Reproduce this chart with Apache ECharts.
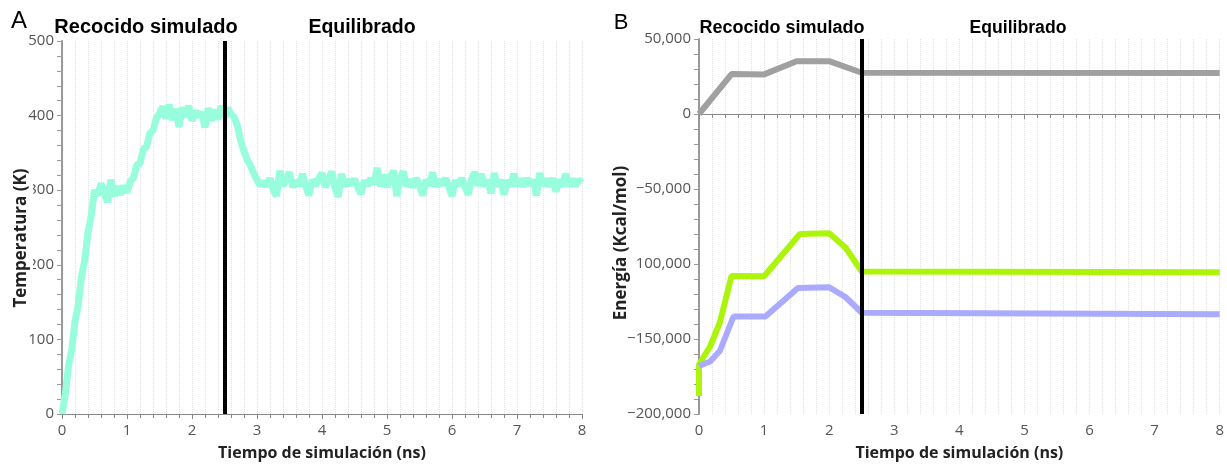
<!DOCTYPE html>
<html>
<head>
<meta charset="utf-8">
<script src="https://cdn.jsdelivr.net/npm/echarts@6/dist/echarts.min.js"></script>
<style>
  html, body { margin: 0; padding: 0; background: #fff; }
  #chart { width: 1227px; height: 466px; }
</style>
</head>
<body>
<div id="chart"></div>
<script>
// Panel A: temperature sampled every 0.05 ns from 0 to 8 ns
const TEMP_START = 0;
const TEMP_STEP = 0.05;
const temperature = [
  0, 26, 64, 86, 124, 146, 184, 206, 244, 266, 300,
  293, 309, 296, 284, 314, 292, 305, 294, 306, 297,
  312, 316, 334, 336, 355, 358, 376, 380, 396, 403,
  412, 396, 415, 394, 409, 385, 411, 398, 413, 393, 406,
  399, 404, 384, 410, 393, 408, 395, 413, 398, 410, 402,
  398, 386, 366, 352, 341, 333, 322, 314, 306,
  312, 305, 316, 300, 292, 326, 306, 315, 324, 304,
  313, 306, 322, 305, 293, 314, 306, 315, 323, 304,
  314, 325, 303, 291, 322, 305, 314, 307, 315, 304,
  295, 313, 306, 316, 308, 330, 305, 321, 304, 318,
  326, 292, 316, 325, 305, 314, 304, 316, 306, 293,
  314, 306, 324, 305, 314, 307, 316, 305, 292, 313,
  306, 316, 304, 294, 315, 324, 306, 322, 305, 314,
  296, 323, 305, 314, 294, 313, 305, 322, 306, 315,
  305, 316, 307, 314, 293, 323, 306, 315, 305, 316,
  298, 314, 306, 322, 305, 315, 306, 314, 310
];

// Panel B: energies (kcal/mol) at the breakpoints of the protocol
const kineticTime = [0, 0.5, 1.0, 1.5, 2.0, 2.5, 8];
const kinetic     = [0, 26600, 26400, 35200, 35200, 27500, 27300];

const totalTime = [0, 0, 0.17, 0.32, 0.5, 1.0, 1.55, 2.0, 2.25, 2.5, 8];
const total     = [-188000, -167000, -155000, -139000, -108000, -108200, -80000, -79500, -89000, -105000, -105500];

const potentialTime = [0, 0.17, 0.32, 0.53, 1.02, 1.52, 2.0, 2.25, 2.5, 8];
const potential     = [-168000, -165000, -158000, -135000, -135000, -116000, -115500, -122000, -132500, -133500];

// Boundary between annealing and equilibration
const PHASE_BOUNDARY = 2.5;

const TIME_MIN = 0, TIME_MAX = 8, TIME_STEP = 1;
const TEMP_MIN = 0, TEMP_MAX = 500, TEMP_INTERVAL = 100;
const ENERGY_MIN = -200000, ENERGY_MAX = 50000, ENERGY_INTERVAL = 50000;

const LABEL_FONT = '"Open Sans", "DejaVu Sans", sans-serif';
const HEAD_FONT = '"Liberation Sans", Arial, sans-serif';

const tempData = temperature.map((v, i) => [TEMP_START + i * TEMP_STEP, v]);
const pairs = (xs, ys) => xs.map((x, i) => [x, ys[i]]);

function timeAxis(gridIndex) {
  return {
    type: 'value', gridIndex,
    min: TIME_MIN, max: TIME_MAX, interval: TIME_STEP,
    name: 'Tiempo de simulación (ns)',
    nameLocation: 'middle', nameGap: 31,
    nameTextStyle: { fontFamily: LABEL_FONT, fontWeight: 'bold', fontSize: 16, color: '#222' },
    axisLine: { show: true, lineStyle: { color: '#888', width: 1 } },
    axisTick: { show: true, length: 5, lineStyle: { color: '#888' } },
    minorTick: { show: true, splitNumber: 5, length: 4, lineStyle: { color: '#888' } },
    splitLine: { show: true, lineStyle: { type: 'dotted', color: '#e0e0e0', width: 1 } },
    minorSplitLine: { show: true, lineStyle: { type: 'dotted', color: '#e0e0e0', width: 1 } },
    axisLabel: { color: '#555', fontSize: 15, fontFamily: LABEL_FONT, margin: 9 }
  };
}

function valueAxis(gridIndex, min, max, interval, formatter) {
  return {
    type: 'value', gridIndex, min, max, interval,
    axisLine: { show: true, lineStyle: { color: '#999', width: 2 } },
    axisTick: { show: true, length: 5, lineStyle: { color: '#999' } },
    minorTick: { show: true, splitNumber: 5, length: 5, lineStyle: { color: '#999' } },
    splitLine: { show: false },
    axisLabel: { color: '#555', fontSize: 15, fontFamily: LABEL_FONT, margin: 8, formatter }
  };
}

const fmtEnergy = v => (v < 0 ? '\u2212' : '') + Math.abs(v).toLocaleString('en-US');

function boundary() {
  return {
    silent: true,
    symbol: ['none', 'none'],
    label: { show: false },
    lineStyle: { color: '#000', width: 4, type: 'solid' },
    data: [{ xAxis: PHASE_BOUNDARY }]
  };
}

function headText(text, x, y, size, weight) {
  return {
    type: 'text', x, y, z: 100,
    style: { text, font: `${weight} ${size}px ${HEAD_FONT}`, fill: '#000',
             align: 'center', verticalAlign: 'middle', textAlign: 'center', textVerticalAlign: 'middle' }
  };
}

// Rotated axis title on a white plate
function yTitle(text, x, y, padding) {
  return {
    type: 'text', x, y, z: 100, rotation: Math.PI / 2,
    style: { text, font: `bold 17px ${LABEL_FONT}`, fill: '#222',
             align: 'center', verticalAlign: 'middle', textAlign: 'center', textVerticalAlign: 'middle',
             backgroundColor: '#fff', padding }
  };
}

const chart = echarts.init(document.getElementById('chart'), null, { renderer: 'canvas' });
chart.setOption({
  animation: false,
  backgroundColor: '#fff',
  grid: [
    { left: 62, top: 41, width: 520, height: 375 },
    { left: 699, top: 39, width: 521, height: 376 }
  ],
  xAxis: [timeAxis(0), timeAxis(1)],
  yAxis: [
    valueAxis(0, TEMP_MIN, TEMP_MAX, TEMP_INTERVAL),
    valueAxis(1, ENERGY_MIN, ENERGY_MAX, ENERGY_INTERVAL, fmtEnergy)
  ],
  graphic: [
    headText('A', 19, 21, 24, 'normal'),
    headText('B', 621, 23, 22, 'normal'),
    headText('Recocido simulado', 146, 27, 20, 'bold'),
    headText('Equilibrado', 362, 28, 19.5, 'bold'),
    headText('Recocido simulado', 782, 28, 18, 'bold'),
    headText('Equilibrado', 1018, 28, 17.6, 'bold'),
    yTitle('Temperatura (K)', 21, 238, [3, 4, 4, 4]),
    yTitle('Energía (Kcal/mol)', 621, 243, [3, 4, 11, 4])
  ],
  series: [
    {
      name: 'Temperatura', type: 'line', xAxisIndex: 0, yAxisIndex: 0,
      data: tempData, showSymbol: false, symbol: 'none',
      lineStyle: { color: '#97fddd', width: 7 },
      markLine: boundary()
    },
    {
      name: 'Cinética', type: 'line', xAxisIndex: 1, yAxisIndex: 1,
      data: pairs(kineticTime, kinetic), showSymbol: false, symbol: 'none',
      lineStyle: { color: '#a0a0a0', width: 6 }
    },
    {
      name: 'Total', type: 'line', xAxisIndex: 1, yAxisIndex: 1,
      data: pairs(totalTime, total), showSymbol: false, symbol: 'none',
      lineStyle: { color: '#acf40a', width: 6 }
    },
    {
      name: 'Potencial', type: 'line', xAxisIndex: 1, yAxisIndex: 1,
      data: pairs(potentialTime, potential), showSymbol: false, symbol: 'none',
      lineStyle: { color: '#aaaaff', width: 6 },
      markLine: boundary()
    }
  ]
});
</script>
</body>
</html>
